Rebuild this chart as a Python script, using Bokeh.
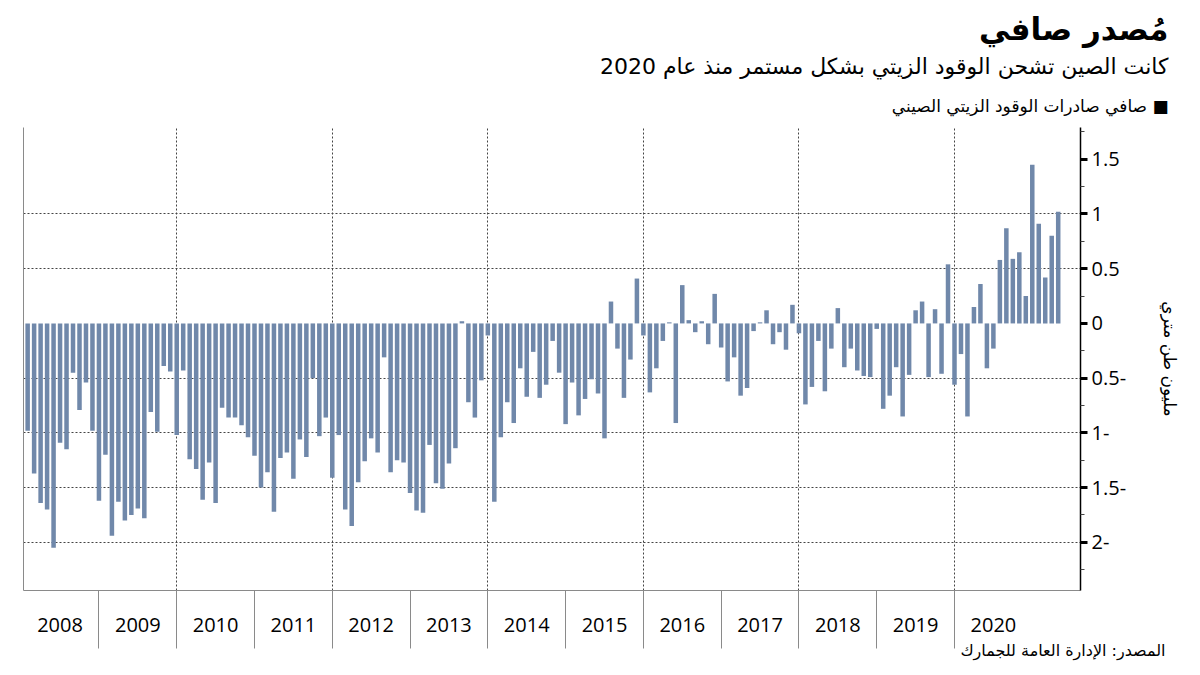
import pandas as pd
from bokeh.plotting import figure
from bokeh.models import (ColumnDataSource, FixedTicker, LinearAxis, Range1d,
                          CustomJSTickFormatter, Title)
from bokeh.embed import file_html
from bokeh.resources import INLINE

# ---- data (million metric tons, monthly net exports of fuel oil) ----
start_month = "2008-02-01"
net_exports = [
    -0.98, -1.37, -1.64, -1.70, -2.05, -1.09, -1.15, -0.45, -0.79, -0.54, -0.98,
    -1.62, -1.20, -1.94, -1.63, -1.80, -1.75, -1.69, -1.78, -0.81, -0.99, -0.39, -0.44,
    -1.02, -0.43, -1.24, -1.33, -1.61, -1.27, -1.64, -0.77, -0.86, -0.86, -0.93, -1.04,
    -1.21, -1.50, -1.36, -1.72, -1.23, -1.18, -1.42, -1.06, -1.22, -0.50, -1.03, -0.86,
    -1.41, -1.02, -1.70, -1.85, -1.45, -1.26, -1.05, -1.18, -0.31, -1.36, -1.25, -1.27,
    -1.55, -1.71, -1.73, -1.11, -1.46, -1.51, -1.28, -1.14, 0.02, -0.72, -0.86, -0.52,
    -0.11, -1.63, -1.04, -0.72, -0.91, -0.41, -0.67, -0.26, -0.68, -0.56, -0.16, -0.45,
    -0.92, -0.54, -0.84, -0.69, -0.51, -0.64, -1.05, 0.20, -0.23, -0.68, -0.33, 0.41,
    -0.11, -0.63, -0.41, -0.16, 0.01, -0.91, 0.35, 0.03, -0.08, 0.02, -0.19, 0.27,
    -0.22, -0.53, -0.31, -0.66, -0.59, -0.07, 0.01, 0.12, -0.19, -0.08, -0.24, 0.17,
    -0.09, -0.74, -0.58, -0.16, -0.62, -0.23, 0.14, -0.40, -0.23, -0.43, -0.48, -0.49,
    -0.05, -0.78, -0.66, -0.40, -0.85, -0.47, 0.12, 0.20, -0.49, 0.13, -0.46, 0.54,
    -0.56, -0.28, -0.85, 0.15, 0.36, -0.41, -0.23, 0.58, 0.87, 0.59, 0.65, 0.25,
    1.45, 0.91, 0.42, 0.80, 1.02,
]
year_labels = [str(y) for y in range(2008, 2021)]
y_ticks = [-2, -1.5, -1, -0.5, 0, 0.5, 1, 1.5]
y_minor = [-2.25, -1.75, -1.25, -0.75, -0.25, 0.25, 0.75, 1.25, 1.75]
grid_years = [2010, 2012, 2014, 2016, 2018, 2020]
y_grid = [-2, -1.5, -1, -0.5, 0.5, 1]

title_text = "مُصدر صافي"
subtitle_text = "كانت الصين تشحن الوقود الزيتي بشكل مستمر منذ عام 2020"
legend_text = "صافي صادرات الوقود الزيتي الصيني ■"
source_text = "المصدر: الإدارة العامة للجمارك"
y_label = "مليون طن متري"

months = pd.date_range(start_month, periods=len(net_exports), freq="MS")
xpos = [d.year + (d.month - 1) / 12.0 for d in months]
src = ColumnDataSource(dict(x=xpos, top=net_exports, month=[d.strftime("%Y-%m") for d in months]))

AR_FONT = "DejaVu Sans"
NUM_FONT = "Open Sans"

p = figure(width=1200, height=675, output_backend="svg", toolbar_location=None,
           x_range=Range1d(2008.03, 2021.62), y_range=Range1d(-2.44, 1.79),
           y_axis_location="right", x_axis_location="below",
           min_border_left=23, min_border_right=120, min_border_top=127, min_border_bottom=85)
p.outline_line_color = None
p.background_fill_color = "white"

p.vbar(x="x", top="top", bottom=0, width=0.058, source=src,
       fill_color="#7088aa", line_color=None)

# x axis
xa = p.xaxis[0]
xa.ticker = FixedTicker(ticks=[int(y) + 0.5 for y in year_labels],
                        minor_ticks=[int(y) for y in year_labels[1:]])
xa.formatter = CustomJSTickFormatter(code="return Math.floor(tick).toString();")
xa.major_tick_out = 0
xa.major_tick_in = 0
xa.minor_tick_out = 58
xa.minor_tick_in = 0
xa.minor_tick_line_color = "#8a8a8a"
xa.axis_line_color = "#8a8a8a"
xa.major_label_standoff = -31
xa.major_label_text_font = NUM_FONT
xa.major_label_text_font_size = "20px"
xa.major_label_text_color = "black"

# right y axis
ya = p.yaxis[0]
ya.ticker = FixedTicker(ticks=y_ticks, minor_ticks=y_minor)
ya.formatter = CustomJSTickFormatter(
    code="return tick < 0 ? (-tick).toString() + '-' : tick.toString();")
ya.axis_line_color = "black"
ya.axis_line_width = 1.5
ya.major_tick_out = 7
ya.major_tick_in = 0
ya.major_tick_line_width = 3
ya.major_tick_line_color = "black"
ya.minor_tick_out = 4
ya.minor_tick_in = 0
ya.minor_tick_line_color = "#444444"
ya.major_label_text_font = NUM_FONT
ya.major_label_text_font_size = "20px"
ya.major_label_text_color = "black"
ya.major_label_standoff = 4
ya.axis_label = y_label
ya.axis_label_text_font = AR_FONT
ya.axis_label_text_font_style = "normal"
ya.axis_label_text_font_size = "17px"
ya.axis_label_text_color = "black"
ya.axis_label_standoff = 31

# left border
la = LinearAxis(ticker=FixedTicker(ticks=[]), major_label_text_font_size="0px",
                major_tick_out=0, minor_tick_out=0, axis_line_color="#8a8a8a")
p.add_layout(la, "left")

# grids
p.xgrid.ticker = FixedTicker(ticks=grid_years)
p.xgrid.grid_line_color = "#444444"
p.xgrid.grid_line_dash = "2 2"
p.xgrid.grid_line_width = 1
p.ygrid.ticker = FixedTicker(ticks=y_grid)
p.ygrid.grid_line_color = "#444444"
p.ygrid.grid_line_dash = "2 2"
p.ygrid.grid_line_width = 1

# titles (nearest first)
p.add_layout(Title(text=legend_text, align="right", text_font=AR_FONT,
                   text_font_size="17px", text_font_style="normal",
                   text_color="black", offset=-88, standoff=24), "above")
p.add_layout(Title(text=subtitle_text, align="right", text_font=AR_FONT,
                   text_font_size="22px", text_font_style="normal",
                   text_color="black", offset=-88, standoff=5), "above")
p.add_layout(Title(text=title_text, align="right", text_font=AR_FONT,
                   text_font_size="31px", text_font_style="bold",
                   text_color="black", offset=-88, standoff=6), "above")
p.add_layout(Title(text=source_text, align="right", text_font=AR_FONT,
                   text_font_size="16px", text_font_style="normal",
                   text_color="black", offset=-85, standoff=9), "below")

open("out.html", "w").write(file_html(p, INLINE))
